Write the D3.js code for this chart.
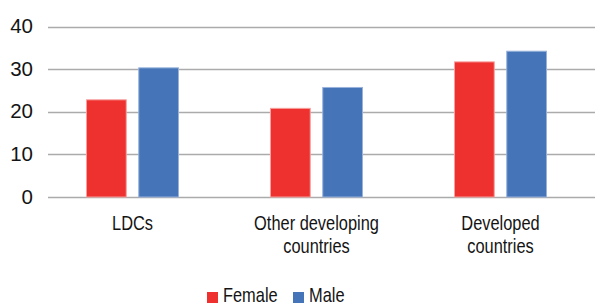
<!DOCTYPE html>
<html>
<head>
<meta charset="utf-8">
<script src="https://cdn.jsdelivr.net/npm/d3@7"></script>
<style>
  body { margin: 0; background: #fff; }
  text { font-family: "Liberation Sans", Arial, sans-serif; fill: #141414; }
</style>
</head>
<body>
<div id="chart"></div>
<script>
var categories = [["LDCs"], ["Other developing", "countries"], ["Developed", "countries"]];
var series = ["Female", "Male"];
var female = [22.8, 20.8, 31.7];
var male = [30.3, 25.7, 34.2];
var yTicks = [0, 10, 20, 30, 40];
var colors = ["#ee312e", "#4574b8"];
var strokes = ["#f7a09e", "#98b2dc"];

var width = 595, height = 303;
var squeeze = 0.8; // condensed look of the original font

var svg = d3.select("#chart")
	.append("svg")
	.attr("width", width)
	.attr("height", height);

var y = d3.scaleLinear().domain([0, 40]).range([197, 26.5]);

var x0 = d3.scaleBand()
	.domain(d3.range(categories.length))
	.range([40.5, 592.5]);

var x1 = d3.scaleBand()
	.domain(series)
	.range([0, 93])
	.paddingInner(0.22);

// gridlines
svg.selectAll("line.grid")
	.data(yTicks)
	.enter()
	.append("line")
	.attr("class", "grid")
	.attr("x1", 48)
	.attr("x2", 595)
	.attr("y1", function(d){ return Math.round(y(d)) + 0.5; })
	.attr("y2", function(d){ return Math.round(y(d)) + 0.5; })
	.style("stroke", "#ababab")
	.style("stroke-width", 1.3);

// y labels
svg.selectAll("text.ytick")
	.data(yTicks)
	.enter()
	.append("text")
	.attr("class", "ytick")
	.attr("x", 33)
	.attr("y", function(d){ return y(d) + 6.5; })
	.attr("text-anchor", "end")
	.style("font-size", "20.5px")
	.text(function(d){ return d; });

// bars
var rows = categories.map(function(c, i){ return [female[i], male[i]]; });

var groups = svg.selectAll("g.cat")
	.data(rows)
	.enter()
	.append("g")
	.attr("class", "cat")
	.attr("transform", function(d, i){ return "translate(" + (x0(i) + (x0.bandwidth() - 93) / 2) + ",0)"; });

groups.selectAll("rect")
	.data(function(d){ return d.map(function(v, j){ return {v: v, s: series[j], j: j}; }); })
	.enter()
	.append("rect")
	.attr("x", function(d){ return x1(d.s) + 0.5; })
	.attr("y", function(d){ return y(d.v); })
	.attr("width", x1.bandwidth() - 1)
	.attr("height", function(d){ return y(0) - y(d.v); })
	.style("fill", function(d){ return colors[d.j]; })
	.style("stroke", function(d){ return strokes[d.j]; })
	.style("stroke-width", 1);

// category labels
svg.selectAll("text.xlab")
	.data(categories)
	.enter()
	.append("text")
	.attr("class", "xlab")
	.attr("transform", function(d, i){
		return "translate(" + (x0(i) + x0.bandwidth() / 2) + ",230) scale(" + squeeze + ",1)";
	})
	.attr("text-anchor", "middle")
	.style("font-size", "20.5px")
	.each(function(d){
		var t = d3.select(this);
		d.forEach(function(line, k){
			t.append("tspan")
				.attr("x", 0)
				.attr("dy", k === 0 ? 0 : 23.5)
				.text(line);
		});
	});

// legend
var legendX = [207, 293];
var legend = svg.selectAll("g.legend")
	.data(series)
	.enter()
	.append("g")
	.attr("class", "legend")
	.attr("transform", function(d, i){ return "translate(" + legendX[i] + ",0)"; });

legend.append("rect")
	.attr("x", 0)
	.attr("y", 292)
	.attr("width", 11)
	.attr("height", 11)
	.style("fill", function(d, i){ return colors[i]; });

legend.append("text")
	.attr("transform", "translate(16,302) scale(" + squeeze + ",1)")
	.style("font-size", "20.5px")
	.text(function(d){ return d; });
</script>
</body>
</html>
